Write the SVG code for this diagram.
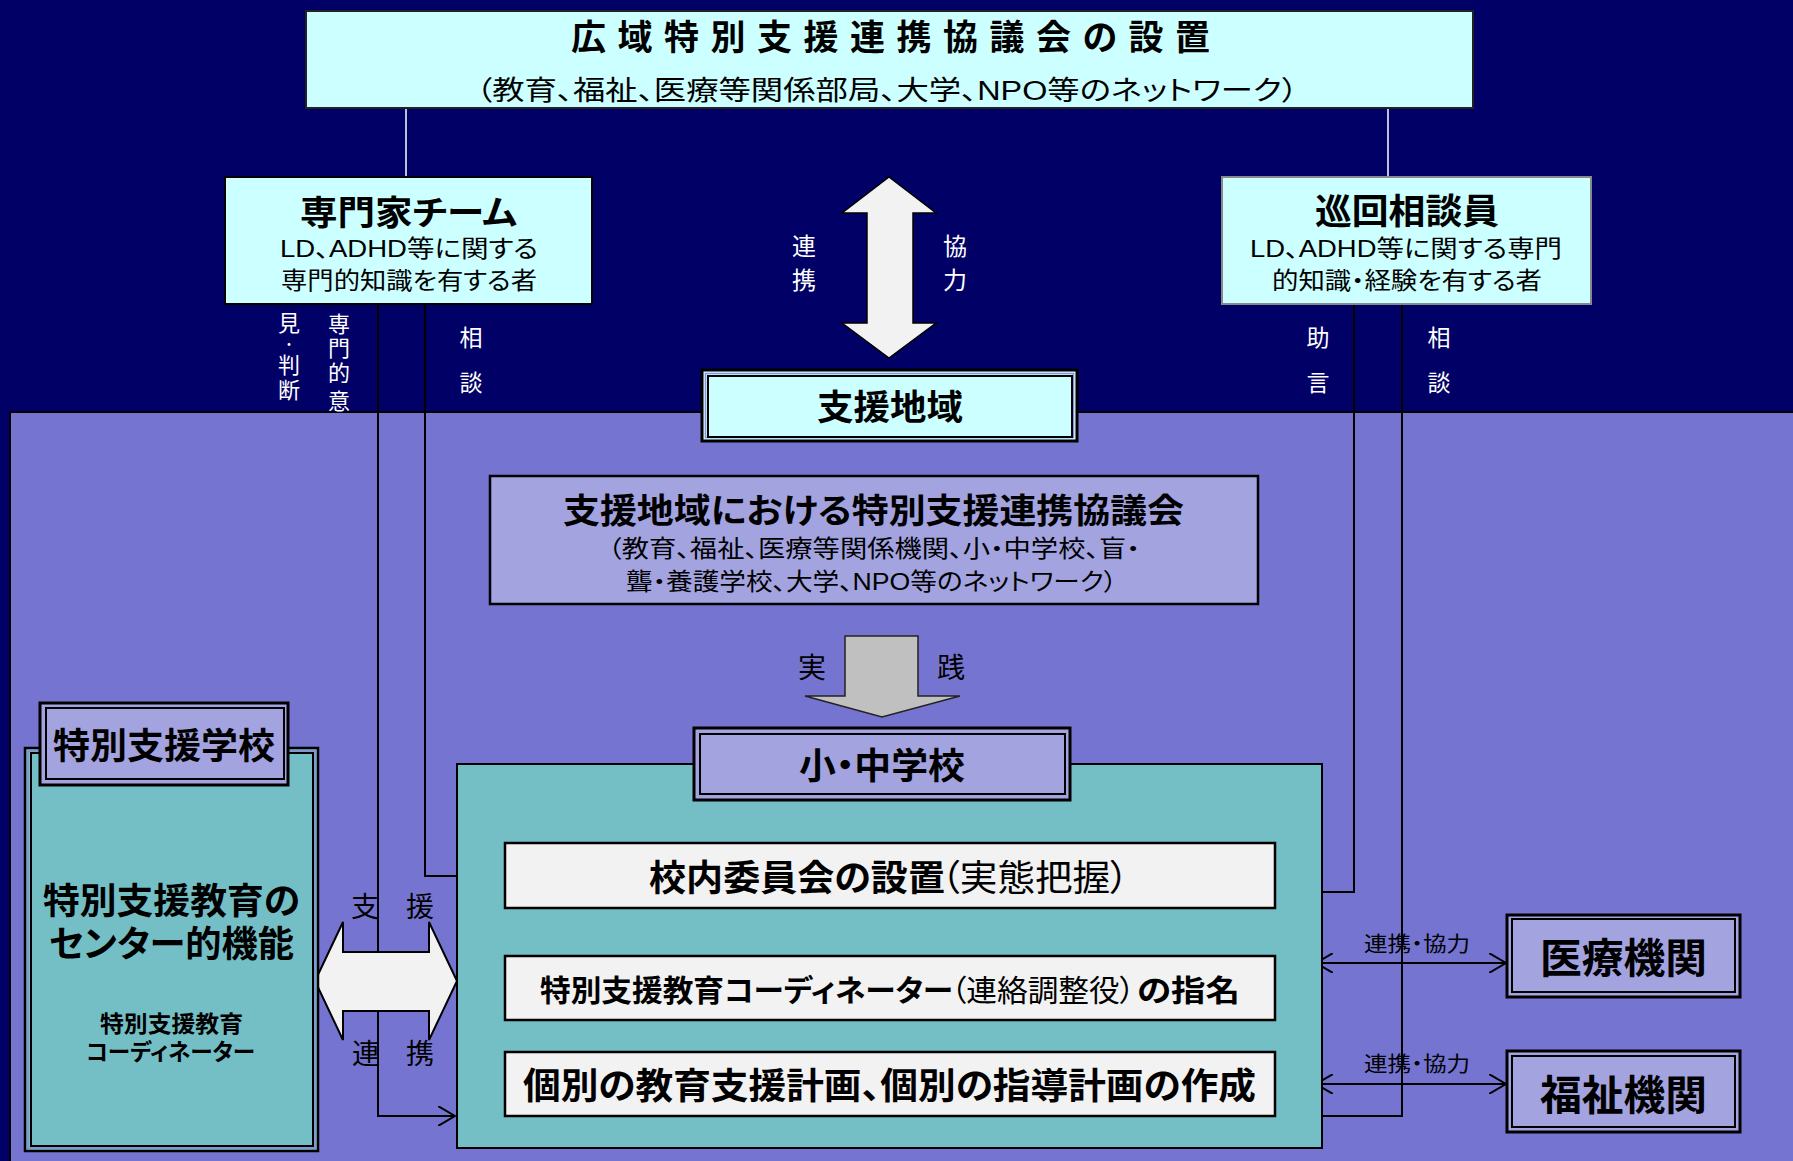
<svg xmlns="http://www.w3.org/2000/svg" width="1793" height="1161" viewBox="0 0 1793 1161">
<defs>
<style>
text{font-family:'Liberation Sans','Noto Sans CJK JP',sans-serif;font-feature-settings:"palt";fill:#000}
.b{font-weight:bold}
.w{fill:#fff}
.c{text-anchor:middle}
.ln{fill:none;stroke:#000;stroke-width:2}
.wl{fill:none;stroke:#fff;stroke-width:1.5}
.cyan{fill:#CCFFFF}
.lav{fill:#A3A3E0}
.teal{fill:#73BFC5}
.row{fill:#F2F2F2;stroke:#000;stroke-width:2.5}
.ob{fill:none;stroke:#000;stroke-width:3}
.ib{fill:none;stroke:#000;stroke-width:2}
</style>
<marker id="chev" viewBox="0 0 18 20" markerWidth="18" markerHeight="20" refX="17" refY="10" orient="auto-start-reverse" markerUnits="userSpaceOnUse">
<path d="M0,0 L17,10 L0,20" fill="none" stroke="#000" stroke-width="2"/>
</marker>
</defs>

<rect x="0" y="0" width="1793" height="1161" fill="#000066"/>
<rect x="10" y="412" width="1790" height="760" fill="#7575D1" stroke="#000" stroke-width="2"/>

<g id="connectors">
<line class="wl" x1="406" y1="108" x2="406" y2="177"/>
<line class="wl" x1="1388" y1="108" x2="1388" y2="177"/>
<polyline class="ln" points="378,304 378,1116 455,1116" marker-end="url(#chev)"/>
<polyline class="ln" points="425,304 425,876 457,876"/>
<polyline class="ln" points="1354,304 1354,892 1322,892"/>
<polyline class="ln" points="1402,304 1402,1116 1322,1116"/>
<line class="ln" x1="1316" y1="963" x2="1506" y2="963" marker-start="url(#chev)" marker-end="url(#chev)"/>
<line class="ln" x1="1316" y1="1084" x2="1506" y2="1084" marker-start="url(#chev)" marker-end="url(#chev)"/>
<polygon points="889,177 936,213 913,213 913,323 936,323 889,358 842,323 867,323 867,213 842,213" fill="#F2F2F2" stroke="#000" stroke-width="1.5"/>
<polygon points="315,981 343,922 343,952 429,952 429,922 457,981 429,1040 429,1011 343,1011 343,1040" fill="#F2F2F2" stroke="#000" stroke-width="2"/>
<polygon points="845,636 918,636 918,696 960,696 882,717 805,696 845,696" fill="#C0C0C0" stroke="#222" stroke-width="1.5"/>
<g>
<text class="w c" x="804" y="255" font-size="24">連</text>
<text class="w c" x="804" y="289" font-size="24">携</text>
<text class="w c" x="955" y="255" font-size="24">協</text>
<text class="w c" x="955" y="289" font-size="24">力</text>
<text class="w c" x="339" y="332" font-size="22">専</text>
<text class="w c" x="339" y="356" font-size="22">門</text>
<text class="w c" x="339" y="381" font-size="22">的</text>
<text class="w c" x="339" y="409" font-size="22">意</text>
<text class="w c" x="289" y="331" font-size="22">見</text>
<text class="w c" x="289" y="349" font-size="13">・</text>
<text class="w c" x="289" y="373" font-size="22">判</text>
<text class="w c" x="289" y="398" font-size="22">断</text>
<text class="w c" x="471" y="346" font-size="23">相</text>
<text class="w c" x="471" y="391" font-size="23">談</text>
<text class="w c" x="1318" y="346" font-size="23">助</text>
<text class="w c" x="1318" y="391" font-size="23">言</text>
<text class="w c" x="1439" y="346" font-size="23">相</text>
<text class="w c" x="1439" y="391" font-size="23">談</text>
<text class="c" x="812" y="678" font-size="28">実</text>
<text class="c" x="951" y="678" font-size="28">践</text>
<text class="c" x="365" y="917" font-size="28">支</text>
<text class="c" x="420" y="917" font-size="28">援</text>
<text class="c" x="366" y="1064" font-size="28">連</text>
<text class="c" x="420" y="1064" font-size="28">携</text>
<text x="1364" y="951" font-size="21" textLength="106" lengthAdjust="spacingAndGlyphs">連携・協力</text>
<text x="1364" y="1071" font-size="21" textLength="106" lengthAdjust="spacingAndGlyphs">連携・協力</text>
</g>
</g>

<g id="kouiki">
<rect x="306" y="11" width="1167" height="97" class="cyan" stroke="#222" stroke-width="2"/>
<text class="b" x="571" y="50" font-size="35" textLength="639" lengthAdjust="spacing">広域特別支援連携協議会の設置</text>
<text x="476" y="100" font-size="27" textLength="822" lengthAdjust="spacingAndGlyphs">（教育、福祉、医療等関係部局、大学、NPO等のネットワーク）</text>
</g>

<g id="senmonka">
<rect x="225" y="177" width="367" height="127" class="cyan" stroke="#000" stroke-width="2"/>
<text class="b" x="300" y="225" font-size="34" textLength="217" lengthAdjust="spacingAndGlyphs">専門家チーム</text>
<text x="280" y="257" font-size="24" textLength="258" lengthAdjust="spacingAndGlyphs">LD、ADHD等に関する</text>
<text x="281" y="289" font-size="24" textLength="256" lengthAdjust="spacingAndGlyphs">専門的知識を有する者</text>
</g>

<g id="junkai">
<rect x="1222" y="177" width="369" height="127" class="cyan" stroke="#888" stroke-width="2"/>
<text class="b" x="1315" y="224" font-size="35" textLength="184" lengthAdjust="spacingAndGlyphs">巡回相談員</text>
<text x="1250" y="257" font-size="24" textLength="312" lengthAdjust="spacingAndGlyphs">LD、ADHD等に関する専門</text>
<text x="1272" y="289" font-size="24" textLength="270" lengthAdjust="spacingAndGlyphs">的知識・経験を有する者</text>
</g>

<g id="shienchiiki">
<rect x="702" y="370" width="375" height="71" class="cyan"/>
<rect x="702" y="370" width="375" height="71" class="ob"/>
<rect x="705.5" y="373.5" width="368" height="64" fill="none" stroke="#9090E0" stroke-width="1.5"/>
<rect x="708" y="376" width="364" height="61" class="ib" stroke-width="1.5"/>
<text class="b" x="817" y="420" font-size="35" textLength="146" lengthAdjust="spacingAndGlyphs">支援地域</text>
</g>

<g id="chiiki-kyogikai">
<rect x="490" y="476" width="768" height="128" class="lav" stroke="#000" stroke-width="2.5"/>
<text class="b" x="563" y="523" font-size="34" textLength="621" lengthAdjust="spacingAndGlyphs">支援地域における特別支援連携協議会</text>
<text x="608" y="557" font-size="24" textLength="532" lengthAdjust="spacingAndGlyphs">（教育、福祉、医療等関係機関、小・中学校、盲・</text>
<text x="626" y="590" font-size="24" textLength="491" lengthAdjust="spacingAndGlyphs">聾・養護学校、大学、NPO等のネットワーク）</text>
</g>

<g id="shochu">
<rect x="457" y="764" width="865" height="384" class="teal" stroke="#000" stroke-width="2"/>
<rect x="694" y="728" width="376" height="72" class="lav"/>
<rect x="694" y="728" width="376" height="72" class="ob"/>
<rect x="700" y="734" width="365" height="60" class="ib"/>
<text class="b" x="799" y="779" font-size="36" textLength="166" lengthAdjust="spacingAndGlyphs">小・中学校</text>
</g>

<g id="row1">
<rect x="505" y="843" width="770" height="65" class="row"/>
<text class="b" x="649" y="891" font-size="36" textLength="296" lengthAdjust="spacingAndGlyphs">校内委員会の設置</text>
<text x="941" y="891" font-size="36" textLength="188" lengthAdjust="spacingAndGlyphs">（実態把握）</text>
</g>

<g id="row2">
<rect x="505" y="956" width="770" height="64" class="row"/>
<text class="b" x="540" y="1001" font-size="30" textLength="413" lengthAdjust="spacingAndGlyphs">特別支援教育コーディネーター</text>
<text x="951" y="1001" font-size="30" textLength="184" lengthAdjust="spacingAndGlyphs">（連絡調整役）</text>
<text class="b" x="1137" y="1001" font-size="30" textLength="103" lengthAdjust="spacingAndGlyphs">の指名</text>
</g>

<g id="row3">
<rect x="505" y="1052" width="770" height="64" class="row"/>
<text class="b" x="523" y="1099" font-size="36" textLength="733" lengthAdjust="spacingAndGlyphs">個別の教育支援計画、個別の指導計画の作成</text>
</g>

<g id="tokubetsu-shien-gakko">
<rect x="25" y="748" width="293" height="403" class="teal"/>
<rect x="25" y="748" width="293" height="403" fill="none" stroke="#000" stroke-width="2.5"/>
<rect x="28" y="751" width="287" height="397" fill="none" stroke="#8A8AD8" stroke-width="1.5"/>
<rect x="31" y="753" width="282" height="393" class="ib"/>
<rect x="40" y="703" width="248" height="82" class="lav"/>
<rect x="40" y="703" width="248" height="82" class="ob"/>
<rect x="46" y="708" width="238" height="71" class="ib"/>
<text class="b" x="53" y="759" font-size="36" textLength="222" lengthAdjust="spacingAndGlyphs">特別支援学校</text>
<text class="b" x="43" y="914" font-size="36" textLength="257" lengthAdjust="spacingAndGlyphs">特別支援教育の</text>
<text class="b" x="49" y="957" font-size="36" textLength="245" lengthAdjust="spacingAndGlyphs">センター的機能</text>
<text class="b" x="100" y="1032" font-size="23" textLength="143" lengthAdjust="spacingAndGlyphs">特別支援教育</text>
<text class="b" x="86" y="1060" font-size="23" textLength="169" lengthAdjust="spacingAndGlyphs">コーディネーター</text>
</g>

<g id="iryo">
<rect x="1507" y="915" width="233" height="82" class="lav"/>
<rect x="1507" y="915" width="233" height="82" class="ob"/>
<rect x="1512" y="919" width="223" height="73" class="ib"/>
<text class="b" x="1540" y="973" font-size="41" textLength="167" lengthAdjust="spacingAndGlyphs">医療機関</text>
</g>

<g id="fukushi">
<rect x="1507" y="1051" width="233" height="81" class="lav"/>
<rect x="1507" y="1051" width="233" height="81" class="ob"/>
<rect x="1512" y="1056" width="223" height="71" class="ib"/>
<text class="b" x="1540" y="1110" font-size="41" textLength="167" lengthAdjust="spacingAndGlyphs">福祉機関</text>
</g>
</svg>
